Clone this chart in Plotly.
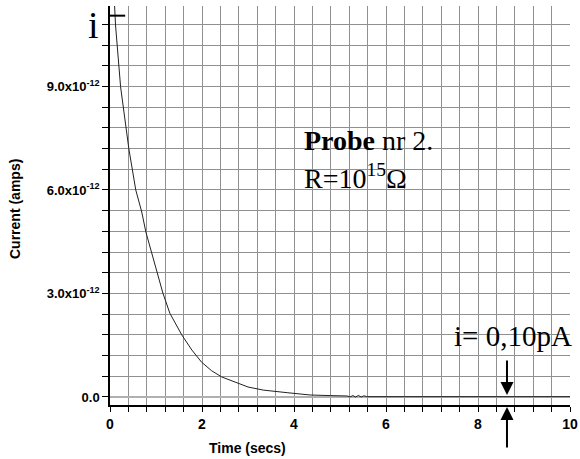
import plotly.graph_objects as go

# Data
time_s = [0.10, 0.12, 0.23, 0.41, 0.56, 0.69, 0.78, 1.02, 1.15, 1.30, 1.56, 1.78, 1.99,
          2.21, 2.43, 3.0, 3.33, 3.85, 4.35, 4.8, 5.15, 5.22, 5.28, 5.34, 5.40, 5.46, 5.52,
          5.58, 6.0, 7.0, 8.0, 9.0, 10.0]
current_pA = [11.33, 10.78, 8.99, 7.19, 6.0, 5.36, 4.78, 3.59, 3.01, 2.43, 1.80, 1.36, 1.01,
              0.76, 0.58, 0.29, 0.20, 0.125, 0.058, 0.04, 0.03, 0.005, 0.04, 0.0, 0.045, 0.0, 0.035,
              0.01, 0.01, 0.01, 0.01, 0.01, 0.01]
current_A = [v * 1e-12 for v in current_pA]

y_tickvals = [0, 3e-12, 6e-12, 9e-12]
y_ticktext = ["0.0", "3.0x10<sup>-12</sup>", "6.0x10<sup>-12</sup>", "9.0x10<sup>-12</sup>"]
x_tickvals = [0, 2, 4, 6, 8, 10]
x_ticktext = ["0", "2", "4", "6", "8", "10"]

marker_t = 8.63
cross_y = 11.05e-12

fig = go.Figure()
fig.add_trace(go.Scatter(x=time_s, y=current_A, mode="lines",
                         line=dict(color="#222222", width=1), showlegend=False,
                         hoverinfo="skip"))

grid = "#909090"
fig.update_layout(
    width=580, height=459,
    margin=dict(l=110, r=10, t=6, b=54, autoexpand=False),
    plot_bgcolor="white", paper_bgcolor="white",
    xaxis=dict(range=[0, 10], tickvals=x_tickvals, ticktext=x_ticktext,
               showgrid=True, gridcolor=grid, gridwidth=1,
               ticks="outside", ticklen=5, tickcolor="black",
               showline=True, linecolor="black", linewidth=1.5,
               zeroline=False, automargin=False,
               tickfont=dict(family="Liberation Sans", size=14, color="black", weight="bold"),
               minor=dict(dtick=0.4, tick0=0, showgrid=True, gridcolor=grid, gridwidth=1,
                          ticks="outside", ticklen=5, tickcolor="black")),
    yaxis=dict(range=[-0.232e-12, 11.33e-12], tickvals=y_tickvals, ticktext=y_ticktext,
               showgrid=True, gridcolor=grid, gridwidth=1,
               ticks="outside", ticklen=6, tickcolor="black",
               showline=True, linecolor="black", linewidth=1.5,
               zeroline=True, zerolinecolor="#b0b0b0", zerolinewidth=2,
               automargin=False,
               tickfont=dict(family="Liberation Sans", size=13, color="black", weight="bold"),
               minor=dict(dtick=0.6e-12, tick0=0, showgrid=True, gridcolor=grid, gridwidth=1,
                          ticks="outside", ticklen=6, tickcolor="black")),
    font=dict(family="Liberation Serif", color="black"),
)

fig.add_shape(type="line", xref="x", yref="y", x0=-0.07, x1=0.33, y0=cross_y, y1=cross_y,
              line=dict(color="black", width=2))

ann = [
    dict(text="<b>Current (amps)</b>", x=(15 - 110) / 460, y=(405 - 209) / 399, xref="paper",
         yref="paper", xanchor="center", yanchor="middle",
         textangle=-90, showarrow=False,
         font=dict(family="Liberation Sans", size=14, color="black")),
    dict(text="<b>Time (secs)</b>", x=(247 - 110) / 460, y=(405 - 448) / 399, xref="paper",
         yref="paper", xanchor="center", yanchor="middle",
         showarrow=False, font=dict(family="Liberation Sans", size=14, color="black")),
    dict(text="i", x=(93 - 110) / 460, y=(405 - 25) / 399, xref="paper", yref="paper",
         xanchor="center", yanchor="middle", showarrow=False,
         font=dict(family="Liberation Serif", size=38, color="black")),
    dict(text="<b>Probe</b> nr 2.", x=(302 - 110) / 460, y=(405 - 140) / 399, xref="paper",
         yref="paper", xanchor="left", yanchor="middle", showarrow=False,
         font=dict(family="Liberation Serif", size=28, color="black")),
    dict(text="R=10<sup>15</sup>Ω", x=(302 - 110) / 460, y=(405 - 176) / 399, xref="paper",
         yref="paper", xanchor="left", yanchor="middle", showarrow=False,
         font=dict(family="Liberation Serif", size=28, color="black")),
    dict(text="i= 0,10pA", x=(513 - 110) / 460, y=(405 - 336) / 399, xref="paper",
         yref="paper", xanchor="center", yanchor="middle", showarrow=False,
         font=dict(family="Liberation Serif", size=29, color="black")),
    dict(text="", x=marker_t, y=(405 - 395) / 399, xref="x", yref="paper", showarrow=True,
         ax=0, ay=-36, arrowhead=2, arrowsize=1.3, arrowwidth=2, arrowcolor="black"),
    dict(text="", x=marker_t, y=(405 - 407) / 399, xref="x", yref="paper", showarrow=True,
         ax=0, ay=42, arrowhead=2, arrowsize=1.3, arrowwidth=2, arrowcolor="black"),
]
fig.update_layout(annotations=ann)

fig.write_html("out.html", config={"displayModeBar": False},
               post_script="document.body.style.margin='0';")
